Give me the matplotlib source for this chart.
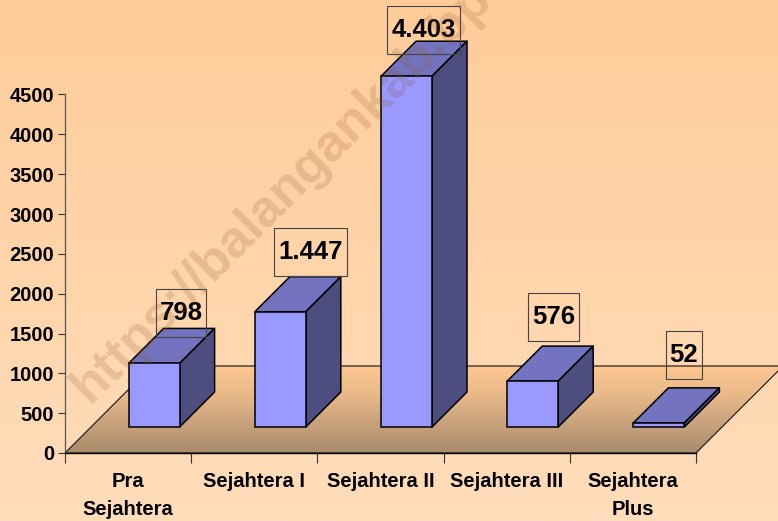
import numpy as np
import matplotlib
matplotlib.use("Agg")
import matplotlib.pyplot as plt
from matplotlib.patches import Polygon, Rectangle
from matplotlib.colors import LinearSegmentedColormap
from matplotlib.transforms import IdentityTransform

categories = ["Pra\nSejahtera", "Sejahtera I", "Sejahtera II", "Sejahtera III", "Sejahtera\nPlus"]
values = [798, 1447, 4403, 576, 52]
value_labels = ["798", "1.447", "4.403", "576", "52"]
y_ticks = [0, 500, 1000, 1500, 2000, 2500, 3000, 3500, 4000, 4500]

label_offsets_px = [(27, 50), (30.5, 60), (17, 46), (20.5, 64.5), (25, 67.5)]
label_box_widths_px = [50.5, 73, 73, 51, 36.5]
LABEL_BOX_H = 48

W, H = 778, 521
plt.rcParams["font.family"] = ["Liberation Sans", "DejaVu Sans"]
plt.rcParams["font.weight"] = "bold"
fig = plt.figure(figsize=(W / 100, H / 100), dpi=100)

# background gradient + floor, in figure pixels
AX_L, AX_R, AX_B, AX_T = 65, 696, 453, 94.5
FD = 87
bg = fig.add_axes([0, 0, 1, 1], zorder=0)
bg.axis("off")
bg_cmap = LinearSegmentedColormap.from_list("bg", ["#FFCC99", "#FFDDBB"])
bg.imshow(np.linspace(0, 1, 256)[:, None], cmap=bg_cmap, aspect="auto", extent=[0, W, H, 0], zorder=0)
floor_px = [(AX_L, AX_B), (AX_R, AX_B), (AX_R + FD, AX_B - FD), (AX_L + FD, AX_B - FD)]
floor_cmap = LinearSegmentedColormap.from_list("floor", ["#FDC790", "#E8B988", "#C8A27C", "#A98B6C"])
im = bg.imshow(np.linspace(0, 1, 256)[:, None], cmap=floor_cmap, aspect="auto",
               extent=[AX_L, AX_R + FD, AX_B, AX_B - FD], zorder=1)
clip = Polygon(floor_px, transform=bg.transData, facecolor="none", edgecolor="none")
bg.add_patch(clip)
im.set_clip_path(clip)
bg.add_patch(Polygon(floor_px, closed=True, fill=False, edgecolor="#111111", lw=0.8, zorder=2))
bg.set_xlim(0, W)
bg.set_ylim(H, 0)

ax = fig.add_axes([AX_L / W, 1 - AX_B / H, (AX_R - AX_L) / W, (AX_B - AX_T) / H], zorder=1)
ax.patch.set_alpha(0)
XMAX, YMAX = 5, 4500
ax.set_xlim(0, XMAX)
ax.set_ylim(0, YMAX)
ux = XMAX / (AX_R - AX_L)   # data units per pixel
uy = YMAX / (AX_B - AX_T)

# bars
FO, BD, BW = 26, 35, 51
x_centers = np.arange(len(values)) + 0.5 + FO * ux
w = BW * ux
y0 = FO * uy
dx, dy = BD * ux, BD * uy
EC = "#000000"
LW = 1.1
ax.bar(x_centers, values, width=w, bottom=y0, color="#9999FF", edgecolor=EC, lw=LW, zorder=4, clip_on=False)
for xc, v in zip(x_centers, values):
    xl, xr, yt = xc - w / 2, xc + w / 2, y0 + v
    ax.add_patch(Polygon([(xl, yt), (xr, yt), (xr + dx, yt + dy), (xl + dx, yt + dy)],
                         facecolor="#7373BF", edgecolor=EC, lw=LW, joinstyle="round", zorder=3, clip_on=False))
    ax.add_patch(Polygon([(xr, y0), (xr + dx, y0 + dy), (xr + dx, yt + dy), (xr, yt)],
                         facecolor="#4D4D80", edgecolor=EC, lw=LW, joinstyle="round", zorder=3, clip_on=False))

# value labels with fixed-size boxes
for xc, v, lab, off, bw in zip(x_centers, values, value_labels, label_offsets_px, label_box_widths_px):
    ax.annotate(lab, xy=(xc, y0 + v), xytext=off, textcoords="offset pixels",
                ha="center", va="center", fontsize=18.5, fontweight="bold", color="black",
                zorder=6, annotation_clip=False)
    px, py = ax.transData.transform((xc, y0 + v))
    cx, cy = px + off[0], py + off[1]
    ax.add_patch(Rectangle((cx - bw / 2, cy - LABEL_BOX_H / 2), bw, LABEL_BOX_H, transform=IdentityTransform(),
                           fill=False, edgecolor="#444444", lw=0.8, zorder=6, clip_on=False))

# axes
for s in ("top", "right"):
    ax.spines[s].set_visible(False)
ax.spines["left"].set_color("#555555")
ax.spines["left"].set_linewidth(0.9)
ax.spines["bottom"].set_color("#000000")
ax.spines["bottom"].set_linewidth(1.0)
ax.set_yticks(y_ticks)
ax.set_yticklabels([str(t) for t in y_ticks], fontsize=14.5, fontweight="bold")
ax.tick_params(axis="y", length=5, width=0.8, color="#333333", pad=3)
ax.set_xticks(np.arange(0, 6))
ax.set_xticklabels([])
ax.set_xticks(np.arange(5) + 0.5, minor=True)
ax.set_xticklabels(categories, minor=True, fontsize=14.5, fontweight="bold", linespacing=1.6)
ax.tick_params(axis="x", which="major", length=7, width=0.8, color="#333333")
ax.tick_params(axis="x", which="minor", length=0, pad=14)

# watermark
fig.text(90 / W, 1 - 404 / H, "https://balangankab.bp", fontsize=37.5, fontweight="bold",
         color="#8B5A2B", alpha=0.2, rotation=45, rotation_mode="anchor", ha="left", va="baseline", zorder=5,
         clip_on=True)

fig.savefig("out.png", dpi=100)
